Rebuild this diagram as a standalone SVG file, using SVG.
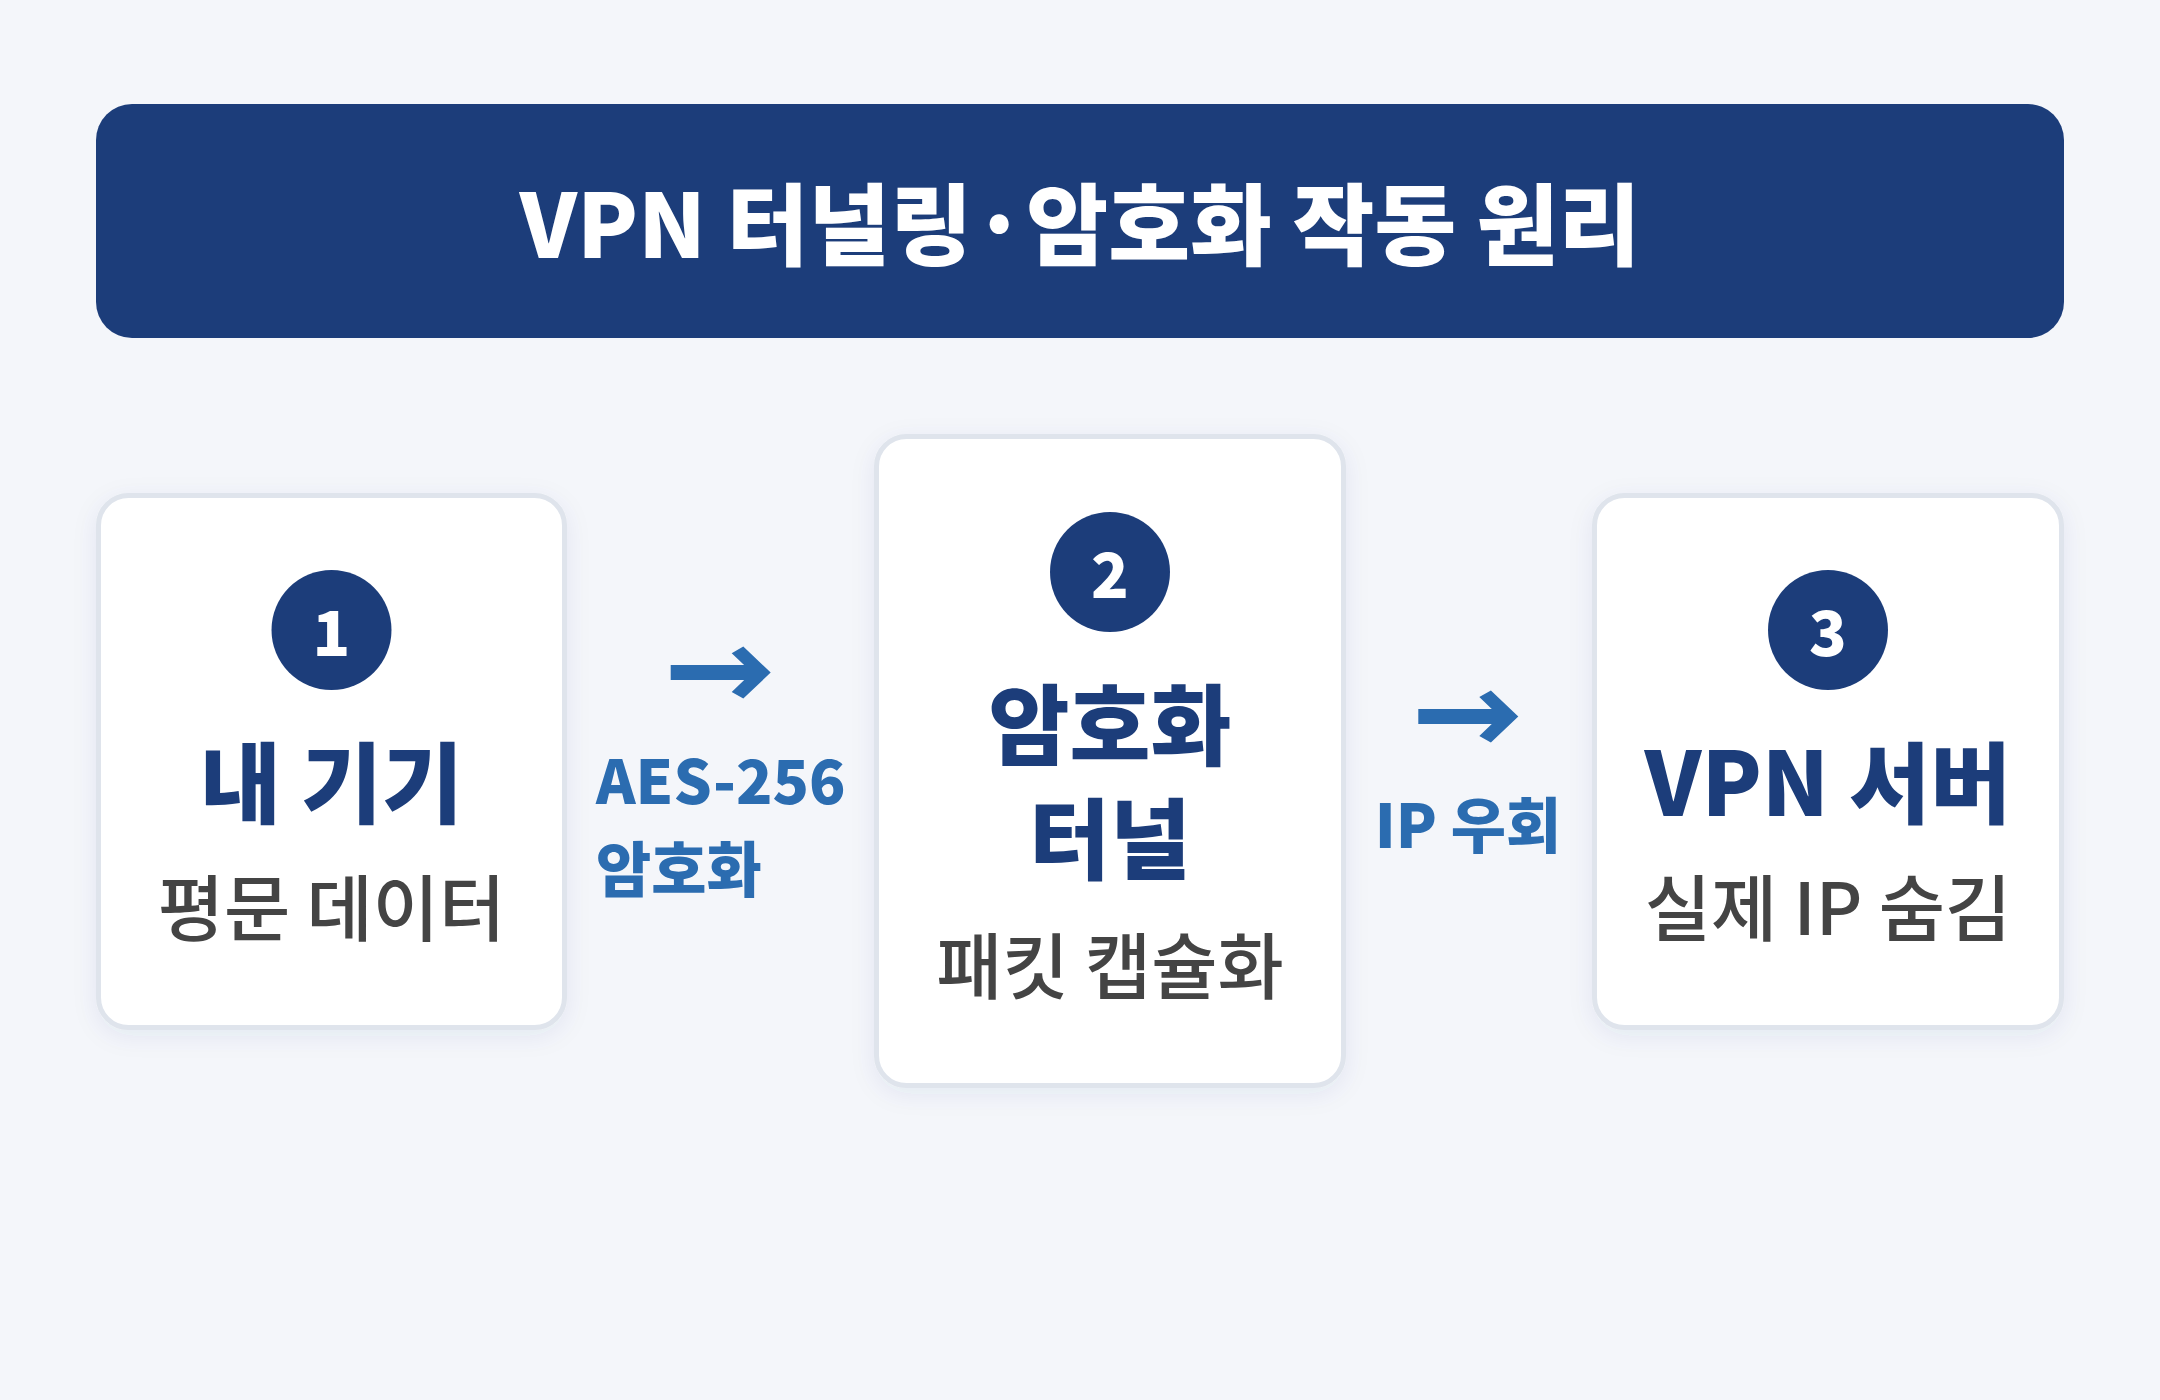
<svg xmlns="http://www.w3.org/2000/svg" width="2160" height="1400" viewBox="0 0 2160 1400">
<style>
  text { font-family: "Noto Sans CJK KR", "Noto Sans", sans-serif; }
  .card { fill: #ffffff; stroke: #dfe4ec; stroke-width: 5; filter: url(#shadow); }
  .badge { fill: #1c3d7a; }
  .num { fill: #ffffff; font-size: 62px; font-weight: 900; text-anchor: middle; }
  .head { fill: #1c3d7a; font-size: 88px; font-weight: 900; text-anchor: middle; }
  .sub { fill: #444444; font-size: 72px; font-weight: 500; text-anchor: middle; }
  .lbl { fill: #2b6cb0; font-size: 60px; font-weight: 900; }
  .arrow { fill: #2b6cb0; }
</style>
<defs>
  <filter id="shadow" x="-20%" y="-20%" width="140%" height="140%">
    <feDropShadow dx="0" dy="6" stdDeviation="12" flood-color="#1c3d7a" flood-opacity="0.07"/>
  </filter>
  <path id="arrowShape" d="M-100,-7.5 H-16 V7.5 H-100 Z M-39,-19.4 L-27.4,-26 L0,0 L-27.4,26 L-39,19.4 L-18.7,0 Z"/>
</defs>
<rect x="0" y="0" width="2160" height="1400" fill="#f4f6fa"/>

<g id="title">
  <rect x="96" y="104" width="1968" height="234" rx="36" fill="#1c3d7a"/>
  <text x="1080" y="258" fill="#ffffff" font-size="89" font-weight="900" text-anchor="middle">VPN 터널링·암호화 작동 원리</text>
</g>

<g id="connectors">
  <use href="#arrowShape" class="arrow" transform="translate(770.7,672.6)"/>
  <text class="lbl" x="596" y="804">AES-256</text>
  <text class="lbl" x="596" y="892">암호화</text>
  <use href="#arrowShape" class="arrow" transform="translate(1518.3,716.5)"/>
  <text class="lbl" x="1468" y="848" text-anchor="middle">IP 우회</text>
</g>

<g id="node1">
  <rect class="card" x="98.5" y="495.5" width="466" height="532" rx="30"/>
  <circle class="badge" cx="331.5" cy="630" r="60"/>
  <text class="num" x="331.5" y="656">1</text>
  <text class="head" x="331.5" y="816">내 기기</text>
  <text class="sub" x="331.5" y="935">평문 데이터</text>
</g>

<g id="node2">
  <rect class="card" x="876.5" y="436.5" width="467" height="649" rx="30"/>
  <circle class="badge" cx="1110" cy="572" r="60"/>
  <text class="num" x="1110" y="598">2</text>
  <text class="head" x="1110" y="758">암호화</text>
  <text class="head" x="1110" y="872">터널</text>
  <text class="sub" x="1110" y="993">패킷 캡슐화</text>
</g>

<g id="node3">
  <rect class="card" x="1594.5" y="495.5" width="467" height="532" rx="30"/>
  <circle class="badge" cx="1828" cy="630" r="60"/>
  <text class="num" x="1828" y="656">3</text>
  <text class="head" x="1828" y="816">VPN 서버</text>
  <text class="sub" x="1828" y="935">실제 IP 숨김</text>
</g>
</svg>
